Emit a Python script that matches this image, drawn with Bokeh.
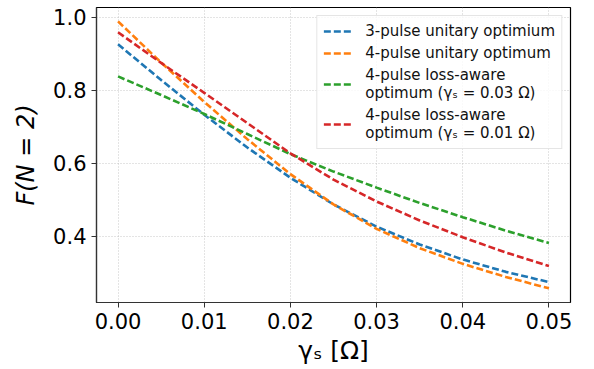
from bokeh.plotting import figure
from bokeh.models import Range1d, FixedTicker, NumeralTickFormatter, Legend, LegendItem
from bokeh.embed import file_html
from bokeh.resources import INLINE

gamma = [0.0, 0.005, 0.01, 0.015, 0.02, 0.025, 0.03, 0.035, 0.04, 0.045, 0.05]
f_3pulse_unitary = [0.926, 0.828, 0.733, 0.643, 0.560, 0.487, 0.426, 0.377, 0.336, 0.302, 0.274]
f_4pulse_unitary = [0.989, 0.876, 0.768, 0.666, 0.570, 0.487, 0.420, 0.367, 0.324, 0.288, 0.257]
f_4pulse_loss_003 = [0.838, 0.787, 0.735, 0.680, 0.625, 0.577, 0.533, 0.491, 0.452, 0.415, 0.381]
f_4pulse_loss_001 = [0.959, 0.875, 0.793, 0.710, 0.627, 0.555, 0.495, 0.443, 0.397, 0.355, 0.318]

labels = [
    "3-pulse unitary optimium",
    "4-pulse unitary optimum",
    "4-pulse loss-aware\noptimum (γₛ = 0.03 Ω)",
    "4-pulse loss-aware\noptimum (γₛ = 0.01 Ω)",
]
colors = ["#1f77b4", "#ff7f0e", "#2ca02c", "#d62728"]
series = [f_3pulse_unitary, f_4pulse_unitary, f_4pulse_loss_003, f_4pulse_loss_001]

x_ticks = [0.0, 0.01, 0.02, 0.03, 0.04, 0.05]
y_ticks = [0.4, 0.6, 0.8, 1.0]

FONT = "DejaVu Sans"

p = figure(width=594, height=369, output_backend="svg", toolbar_location=None,
           x_range=Range1d(-0.0025, 0.0525), y_range=Range1d(0.218, 1.027),
           min_border_left=96, min_border_right=24, min_border_top=7, min_border_bottom=67)

p.outline_line_color = "black"
p.outline_line_width = 1.2
p.background_fill_color = "white"
p.border_fill_color = "white"

items = []
for ys, c, lab in zip(series, colors, labels):
    r = p.line(gamma, ys, line_color=c, line_width=2.6, line_dash="7 3")
    items.append(LegendItem(label=lab, renderers=[r]))

for ax in (p.xaxis[0], p.yaxis[0]):
    ax.major_label_text_font = FONT
    ax.major_label_text_font_size = "21px"
    ax.major_label_text_color = "black"
    ax.axis_label_text_font = FONT
    ax.axis_label_text_font_size = "25px"
    ax.axis_label_text_font_style = "normal"
    ax.axis_label_text_color = "black"
    ax.major_tick_out = 5
    ax.major_tick_in = 0
    ax.minor_tick_out = 0
    ax.minor_tick_in = 0
    ax.axis_line_color = "#333333"
    ax.major_tick_line_color = "#333333"
    ax.axis_line_width = 1.2

p.xaxis[0].ticker = FixedTicker(ticks=x_ticks)
p.yaxis[0].ticker = FixedTicker(ticks=y_ticks)
p.xaxis[0].formatter = NumeralTickFormatter(format="0.00")
p.yaxis[0].formatter = NumeralTickFormatter(format="0.0")
p.xaxis[0].axis_label = "γₛ [Ω]"
p.yaxis[0].axis_label = "F(N = 2)"
p.yaxis[0].axis_label_text_font_style = "italic"
p.yaxis[0].axis_label_text_font_size = "24px"
p.xaxis[0].major_label_standoff = 5
p.yaxis[0].major_label_standoff = 5
p.xaxis[0].axis_label_standoff = 4
p.yaxis[0].axis_label_standoff = 10

for g in (p.xgrid[0], p.ygrid[0]):
    g.grid_line_color = "#b0b0b0"
    g.grid_line_alpha = 0.7
    g.grid_line_dash = "1 2"
    g.grid_line_width = 1
p.xgrid[0].ticker = FixedTicker(ticks=x_ticks)
p.ygrid[0].ticker = FixedTicker(ticks=y_ticks)

legend = Legend(items=items, location="top_right")
legend.label_text_font = FONT
legend.label_text_font_size = "15px"
legend.label_text_color = "#111111"
legend.label_text_line_height = 1.05
legend.label_height = 18
legend.glyph_width = 30
legend.glyph_height = 18
legend.label_standoff = 12
legend.spacing = 4
legend.padding = 6
legend.margin = 8
legend.border_line_color = "#cccccc"
legend.border_line_width = 1
legend.background_fill_color = "white"
legend.background_fill_alpha = 0.8
p.add_layout(legend)

open("out.html", "w").write(file_html(p, INLINE))
